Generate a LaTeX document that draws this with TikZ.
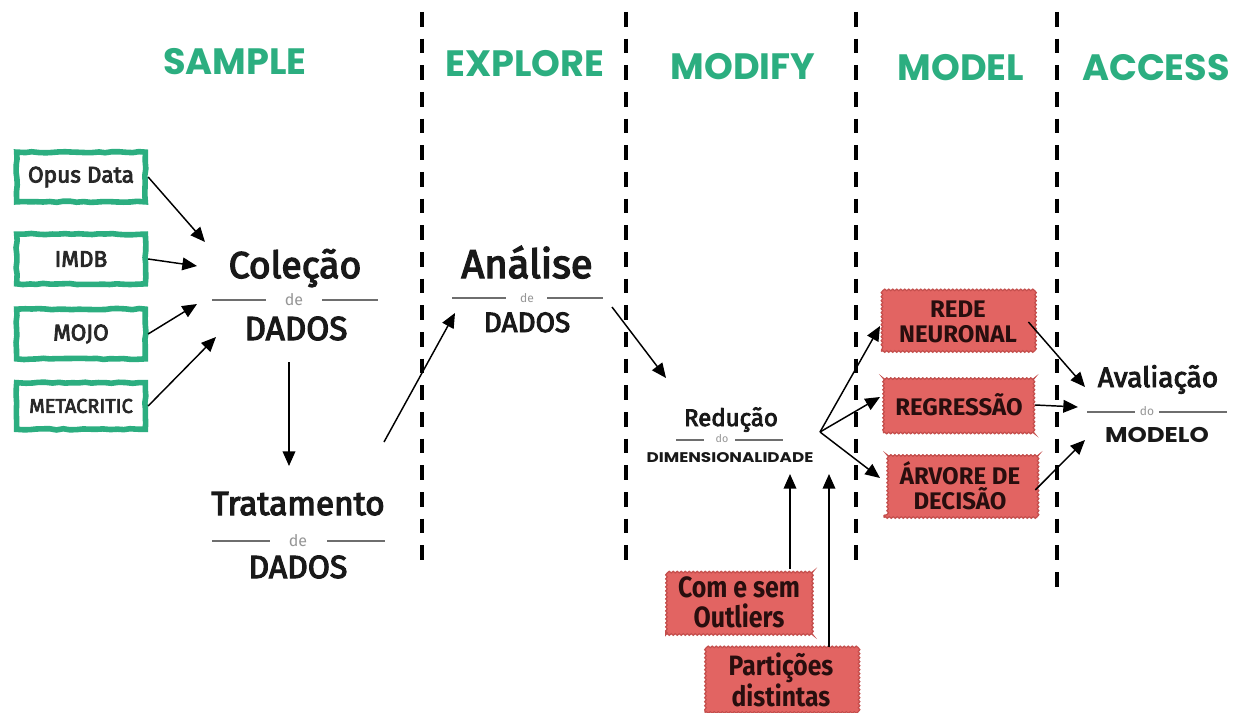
\documentclass[tikz,border=0pt]{standalone}
\usepackage{fontspec}
\usepackage{graphicx}
\usetikzlibrary{arrows.meta,decorations.pathmorphing}
\setmainfont{Fira Sans}
\newfontfamily\headfont{Poppins}
\newfontfamily\medfont{Fira Sans}[FakeBold=3.5]
\newfontfamily\boxfont{Fira Sans}[FakeBold=3.5]
\definecolor{sgreen}{RGB}{44,174,128}
\definecolor{sred}{RGB}{226,100,98}
\definecolor{sredd}{RGB}{196,78,76}
\definecolor{dtext}{RGB}{25,25,25}
\definecolor{btext}{RGB}{40,40,40}
\definecolor{rtext}{RGB}{40,14,14}
\definecolor{rulegray}{RGB}{110,110,110}
\definecolor{degray}{RGB}{150,150,150}
\begin{document}
\begin{tikzpicture}[x=0.75pt,y=-0.75pt]
\tikzset{
 arr/.style={-{Triangle[length=11pt,width=9.5pt]}, line width=1.1pt, draw=black},
 sepline/.style={line width=2.6pt, dash pattern=on 11pt off 9pt},
 head/.style={font=\headfont\bfseries\fontsize{27.5}{30}\selectfont, text=sgreen, inner sep=0, anchor=base},
 gbox/.style={draw=sgreen, line width=4.2pt, fill=white, decorate, decoration={random steps, segment length=5pt, amplitude=0.5pt}, minimum width=96.5pt, minimum height=37.3pt, inner sep=0, font=\boxfont\fontsize{17}{18}\selectfont, text=btext},
 rbox/.style={fill=sred, draw=sredd, line width=0.9pt, decorate, decoration={snake, segment length=3pt, amplitude=0.6pt}, inner sep=0, align=center, text=rtext, font=\bfseries\fontsize{18}{19}\selectfont},
 ttl/.style={inner sep=0, anchor=base, text=dtext},
 detext/.style={inner sep=0, text=degray, font=\fontsize{12}{12}\selectfont},
 rl/.style={line width=2pt, draw=rulegray},
}
\clip (0,0) rectangle (1234,713);
\fill[white] (0,0) rectangle (1234,713);

% headers
\node[head] (hs) at (235,75) {SAMPLE};
\node[head] (he) at (525,77) {EXPLORE};
\node[head] (hmf) at (743,80) {MODIFY};
\node[head] (hml) at (961,81) {MODEL};
\node[head] (ha) at (1156,81) {ACCESS};

% separators
\draw[sepline] (422,12) -- (422,560);
\draw[sepline] (626,12) -- (626,560);
\draw[sepline] (856,12) -- (856,560);
\draw[sepline] (1057,12) -- (1057,590);

% source boxes
\node[gbox] (opus) at (81,177) {Opus Data};
\node[gbox] (imdb) at (81,259) {IMDB};
\node[gbox] (mojo) at (81,334) {MOJO};
\node[gbox, minimum height=35pt, font=\boxfont\fontsize{15}{16}\selectfont] (meta) at (81,406) {METACRITIC};

% Coleção de DADOS
\node[ttl, font=\medfont\fontsize{28}{30}\selectfont] (colT) at (295,278) {Coleção};
\node[detext] (colD) at (294,300) {de};
\node[ttl, font=\medfont\fontsize{25}{27}\selectfont] (colB) at (296,340) {DADOS};
\draw[rl] (212,300) -- (266,300);
\draw[rl] (322,300) -- (378,300);

% Tratamento de DADOS
\node[ttl, font=\medfont\fontsize{25}{27}\selectfont] (traT) at (298,515) {Tratamento};
\node[detext] (traD) at (298,541) {de};
\draw[rl] (212,541) -- (270,541);
\draw[rl] (327,541) -- (385,541);
\node[ttl, font=\medfont\fontsize{24}{26}\selectfont] (traB) at (298,578) {DADOS};

% Análise de DADOS
\node[ttl, font=\medfont\fontsize{30}{32}\selectfont] (anaT) at (527,278) {Análise};
\node[detext, font=\fontsize{9}{9}\selectfont] (anaD) at (527,298) {de};
\draw[rl] (452,298) -- (506,298);
\draw[rl] (547,298) -- (603,298);
\node[ttl, font=\medfont\fontsize{21}{23}\selectfont] (anaB) at (527,332) {DADOS};

% Redução do DIMENSIONALIDADE
\node[ttl, font=\medfont\fontsize{18}{20}\selectfont] (redT) at (731,426) {Redução};
\node[detext, font=\fontsize{8}{8}\selectfont] (redD) at (722,439) {do};
\draw[rl, line width=1.4pt] (676,440) -- (704,440);
\draw[rl, line width=1.4pt] (735,440) -- (783,440);
\node[ttl, font=\headfont\bfseries\fontsize{10.5}{12}\selectfont] (redB) at (730,462) {\scalebox{1.2}[1]{DIMENSIONALIDADE}};

% model boxes
\node[rbox, minimum width=114.75pt, minimum height=44.25pt] (rede) at (958,322) {REDE\\NEURONAL};
\node[rbox, minimum width=113.25pt, minimum height=42pt] (regr) at (959,405) {REGRESSÃO};
\node[rbox, minimum width=114pt, minimum height=47.25pt] (arv) at (960,486) {ÁRVORE DE\\DECISÃO};

% outlier / partition boxes
\node[rbox, minimum width=109.5pt, minimum height=48.75pt, font=\bfseries\fontsize{22}{22.5}\selectfont] (outl) at (739,602) {\scalebox{0.85}[1]{Com e sem}\\\scalebox{0.85}[1]{Outliers}};
\node[rbox, minimum width=114pt, minimum height=48.75pt, font=\bfseries\fontsize{21}{20.5}\selectfont] (part) at (781,680) {\scalebox{0.88}[1]{Partições}\\\scalebox{0.88}[1]{distintas}};

% Avaliação do MODELO
\node[ttl, font=\medfont\fontsize{21}{23}\selectfont] (avaT) at (1158,387) {Avaliação};
\node[detext, font=\fontsize{9}{9}\selectfont] (avaD) at (1147,411) {do};
\draw[rl, line width=1.4pt] (1087,412) -- (1135,412);
\draw[rl, line width=1.4pt] (1159,412) -- (1227,412);
\node[ttl, font=\headfont\bfseries\fontsize{16}{18}\selectfont] (avaB) at (1157,442) {\scalebox{1.15}[1]{MODELO}};

% arrow end coordinates
\coordinate (c1) at (205,242);
\coordinate (c2) at (197,266);
\coordinate (c3) at (197,304);
\coordinate (c4) at (216,337);
\coordinate (c5s) at (289,362);
\coordinate (c5) at (289,466);
\coordinate (c6s) at (384,442);
\coordinate (c6) at (455,313);
\coordinate (c7s) at (612,307);
\coordinate (c7) at (666,378);
\coordinate (fan) at (820,432);
\coordinate (f1) at (880,326);
\coordinate (f2) at (880,397);
\coordinate (f3) at (880,478);
\coordinate (u1) at (790,474);
\coordinate (u2) at (829,474);
\coordinate (a1) at (1085,387);
\coordinate (a2) at (1078,407);
\coordinate (a3) at (1085,440);

% arrows
\draw[arr] (opus.east) -- (c1);
\draw[arr] (imdb.east) -- (c2);
\draw[arr] (mojo.east) -- (c3);
\draw[arr] (meta.east) -- (c4);
\draw[arr] (c5s) -- (c5);
\draw[arr] (c6s) -- (c6);
\draw[arr] (c7s) -- (c7);
\draw[arr] (fan) -- (f1);
\draw[arr] (fan) -- (f2);
\draw[arr] (fan) -- (f3);
\draw[arr] (outl.north -| u1) -- (u1);
\draw[arr] (part.north -| u2) -- (u2);
\draw[arr] ([xshift=-5pt]rede.east) -- (a1);
\draw[arr] (regr.east) -- (a2);
\draw[arr] ([xshift=-1pt,yshift=-3pt]arv.east) -- (a3);
\end{tikzpicture}
\end{document}
